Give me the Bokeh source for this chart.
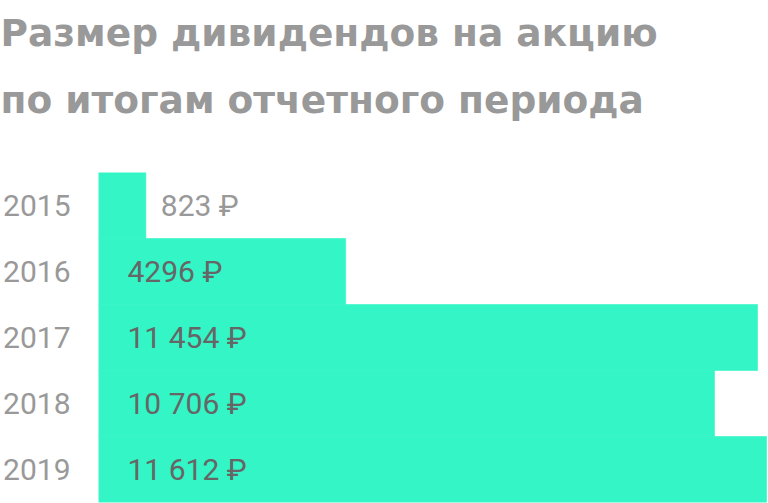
from bokeh.plotting import figure
from bokeh.models import ColumnDataSource, Range1d, FactorRange, Title
from bokeh.core.properties import value
from bokeh.embed import file_html
from bokeh.resources import INLINE

years = ["2015", "2016", "2017", "2018", "2019"]
dividends = [823, 4296, 11454, 10706, 11612]
value_labels = ["823 ₽", "4296 ₽", "11 454 ₽", "10 706 ₽", "11 612 ₽"]
title_lines = ["Размер дивидендов на акцию", "по итогам отчетного периода"]

W, H = 768, 503
TOP = 172
LEFT = 98
XMAX = 11645
BAR = "#33f5c5"

short = [v < 2000 for v in dividends]
label_x = [v if s else 0 for v, s in zip(dividends, short)]
label_off = [15 if s else 29 for s in short]
label_col = ["#999999" if s else "#666666" for s in short]

src = ColumnDataSource(dict(y=years, right=dividends, lx=label_x, lo=label_off,
                            lc=label_col, txt=value_labels))

p = figure(width=W, height=H, output_backend="svg", toolbar_location=None,
           y_range=FactorRange(factors=list(reversed(years))),
           x_range=Range1d(0, XMAX), x_axis_location=None,
           min_border_top=TOP, min_border_left=LEFT, min_border_right=0,
           min_border_bottom=1, outline_line_color=None)
p.background_fill_color = "white"
p.border_fill_color = "white"
p.grid.visible = False

p.hbar(y="y", left=0, right="right", height=1.0, source=src,
       fill_color=BAR, line_color=BAR, line_width=0.6)

p.text(x="lx", y="y", text="txt", x_offset="lo", source=src,
       text_color="lc", text_font=value("Roboto"), text_font_size="30px",
       text_baseline="middle", text_align="left")

ax = p.yaxis[0]
ax.axis_line_color = None
ax.major_tick_line_color = None
ax.minor_tick_line_color = None
ax.major_tick_out = 0
ax.major_tick_in = 0
ax.minor_tick_out = 0
ax.major_label_standoff = 28
ax.major_label_text_font = "Roboto"
ax.major_label_text_font_size = "30px"
ax.major_label_text_color = "#999999"

# blank gap between the heading and the bars
p.add_layout(Title(text="\u00a0", standoff=13, text_font="DejaVu Sans",
                   text_font_size="20px", text_line_height=1.0,
                   text_color="#ffffff"), "above")
# inner line first (closest to the bars), then the top line
for line, standoff in [(title_lines[1], 24), (title_lines[0], 17)]:
    p.add_layout(Title(text=line, align="left", offset=-LEFT, standoff=standoff,
                       text_font="DejaVu Sans", text_font_style="bold",
                       text_font_size="37.5px", text_color="#999999",
                       text_line_height=1.0), "above")

tmpl = "{% block preamble %}<style>html,body{margin:0;padding:0;overflow:hidden;}</style>{% endblock %}"
open("out.html", "w").write(file_html(p, INLINE, title="chart", template=tmpl))
